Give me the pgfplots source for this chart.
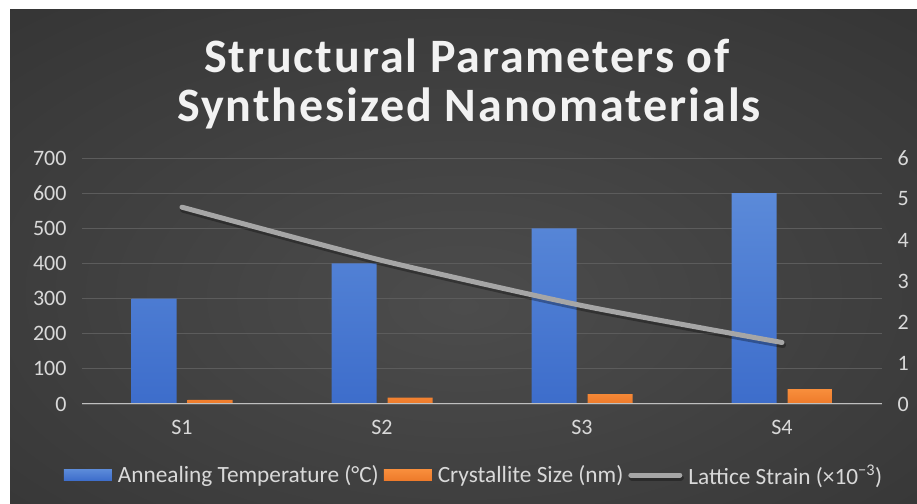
\documentclass[border=0pt]{standalone}
\usepackage{fontspec}
\setmainfont{Carlito}
\newfontfamily\titlefont[LetterSpace=4]{Carlito}
\usepackage{pgfplots}
\pgfplotsset{compat=1.18}
\definecolor{bgin}{HTML}{4C4C4C}
\definecolor{bgmid}{HTML}{3A3A3A}
\definecolor{bgout}{HTML}{262626}
\definecolor{txt}{HTML}{D9D9D9}
\definecolor{titlecol}{HTML}{F2F2F2}
\definecolor{gridc}{HTML}{5C5C5C}
\definecolor{zeroc}{HTML}{BFBFBF}
\definecolor{blueT}{HTML}{5B8AD9}
\definecolor{blueB}{HTML}{3D6DCB}
\definecolor{orT}{HTML}{F88E3C}
\definecolor{orB}{HTML}{EE7A2A}
\definecolor{strain}{HTML}{A6A6A6}
\pgfdeclareradialshading{bgshade}{\pgfpoint{0bp}{-5bp}}{color(0bp)=(bgin); color(30bp)=(bgmid); color(62bp)=(bgout); color(80bp)=(bgout)}
\begin{document}
\begin{tikzpicture}[x=1bp,y=1bp]
\fill[white] (0,0) rectangle (917,504);
\shade[shading=bgshade] (10,0) rectangle (917,494);
\node[anchor=base, text=titlecol, font=\titlefont\bfseries\fontsize{48bp}{56bp}\selectfont] at (467,431) {Structural Parameters of};
\node[anchor=base, text=titlecol, font=\titlefont\bfseries\fontsize{48bp}{56bp}\selectfont] at (469,382) {Synthesized Nanomaterials};
\begin{axis}[
  at={(82bp,100bp)}, anchor=south west, scale only axis,
  width=800bp, height=246bp,
  xmin=-0.5, xmax=3.5, ymin=0, ymax=700,
  xtick={0,1,2,3}, xticklabels={S1,S2,S3,S4},
  ytick={0,100,...,700},
  ymajorgrids, grid style={gridc, line width=0.8bp},
  axis line style={draw=none},
  major tick length=0pt,
  tick label style={text=txt, font=\fontsize{22bp}{26bp}\selectfont},
  /pgf/number format/assume math mode=true,
  yticklabel style={xshift=-12bp},
  xticklabel style={yshift=-13bp},
  ybar, bar width=45bp,
]
\addplot[bar shift=-28bp, draw=none, top color=blueT, bottom color=blueB] coordinates {(0,300) (1,400) (2,500) (3,600)};
\addplot[bar shift=28bp, draw=none, top color=orT, bottom color=orB] coordinates {(0,12) (1,18) (2,28) (3,42)};
\draw[zeroc, line width=1.5bp] (axis cs:-0.5,0) -- (axis cs:3.5,0);
\end{axis}
\begin{axis}[
  at={(82bp,100bp)}, anchor=south west, scale only axis,
  width=800bp, height=246bp,
  xmin=-0.5, xmax=3.5, ymin=0, ymax=6,
  axis y line*=right, axis x line=none,
  ytick={0,1,...,6},
  axis line style={draw=none},
  major tick length=0pt,
  tick label style={text=txt, font=\fontsize{22bp}{26bp}\selectfont},
  /pgf/number format/assume math mode=true,
  yticklabel style={xshift=12bp},
  legend columns=3,
  legend style={at={(0.49,-0.289)}, anchor=center, draw=none, fill=none,
    text=txt, font=\fontsize{23.3bp}{27bp}\selectfont,
    /tikz/every odd column/.append style={column sep=4bp},
    /tikz/every even column/.append style={column sep=3bp}},
]
\addlegendimage{draw=none, legend image code/.code={\fill[draw=none, top color=blueT,bottom color=blueB] (0bp,-5.5bp) rectangle (48bp,5.5bp);}}
\addlegendentry{Annealing Temperature (°C)}
\addlegendimage{draw=none, legend image code/.code={\fill[draw=none, top color=orT,bottom color=orB] (0bp,-5.5bp) rectangle (48bp,5.5bp);}}
\addlegendentry{Crystallite Size (nm)}
\addplot[strain, line width=5bp, line cap=round, smooth, tension=0.35,
  preaction={draw=black, opacity=0.3, line width=6bp, transform canvas={xshift=1bp,yshift=-2.5bp}},
  legend image code/.code={\draw[strain, line width=5bp, line cap=round] (2.5bp,0bp) -- (51.5bp,0bp);}]
  coordinates {(0,4.8) (1,3.5) (2,2.4) (3,1.5)};
\addlegendentry{Lattice Strain (×10\textsuperscript{−3})}
\end{axis}
\end{tikzpicture}
\end{document}
